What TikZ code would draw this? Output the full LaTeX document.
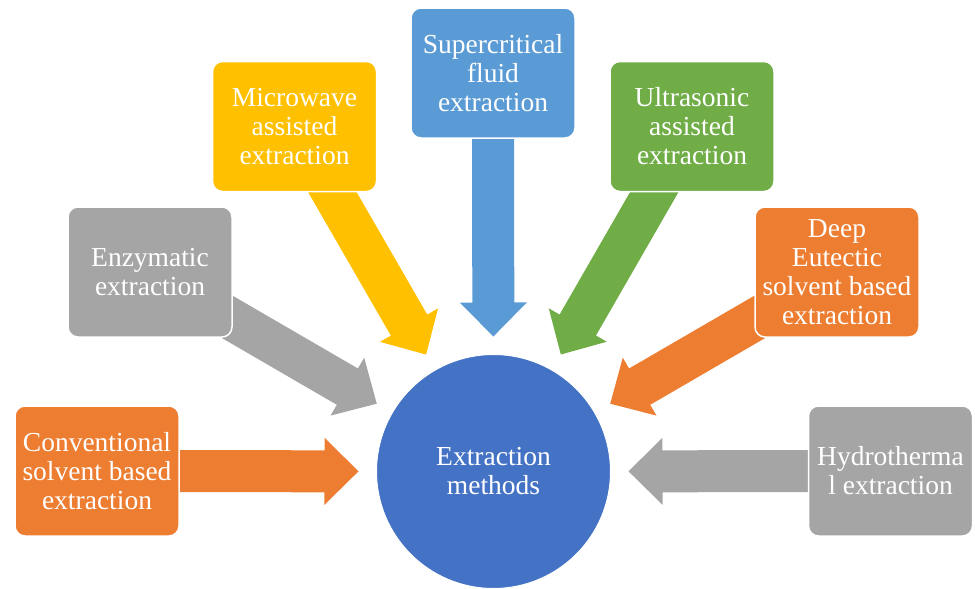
\documentclass[tikz,border=0pt]{standalone}
\usepackage{fontspec}
\setmainfont{Liberation Serif}
\usetikzlibrary{calc}
\definecolor{cOrange}{HTML}{ED7D31}
\definecolor{cGray}{HTML}{A5A5A5}
\definecolor{cYellow}{HTML}{FFC000}
\definecolor{cSky}{HTML}{5B9BD5}
\definecolor{cGreen}{HTML}{70AD47}
\definecolor{cBlue}{HTML}{4472C4}
\pgfdeclarelayer{bg}
\pgfsetlayers{bg,main}
\newcommand{\blockarrow}[3]{%
  \coordinate (#1h) at ($(#2)!34pt!(#1.center)$);
  \fill[#3] ($(#1.center)!21pt!90:(#2)$) -- ($(#1h)!21pt!90:(#2)$) -- ($(#1h)!33.5pt!90:(#2)$) -- (#2)
    -- ($(#1h)!33.5pt!-90:(#2)$) -- ($(#1h)!21pt!-90:(#2)$) -- ($(#1.center)!21pt!-90:(#2)$) -- cycle;}
\begin{document}
\begin{tikzpicture}[x=1pt,y=-1pt,
  box/.style={rounded corners=10pt, draw=white, line width=1.5pt, minimum width=164pt, minimum height=130pt,
    text=white, align=center, font=\fontsize{27.5}{29}\selectfont, inner sep=2pt},
  hub/.style={circle, fill=cBlue, draw=white, line width=1pt, minimum size=234pt, text=white, align=center,
    font=\fontsize{27.5}{29}\selectfont}]
\useasboundingbox (0,0) rectangle (975,589);
\node[hub] (c) at (493.5,471.5) {Extraction\\methods};
\node[box, fill=cOrange] (conv) at (97,471) {Conventional\\solvent based\\extraction};
\node[box, fill=cGray] (enz) at (150,272) {Enzymatic\\extraction};
\node[box, fill=cYellow] (micro) at (294.5,126.5) {Microwave\\assisted\\extraction};
\node[box, fill=cSky] (super) at (493,73) {Supercritical\\fluid\\extraction};
\node[box, fill=cGreen] (ultra) at (692,126.5) {Ultrasonic\\assisted\\extraction};
\node[box, fill=cOrange] (deep) at (837,272) {Deep\\Eutectic\\solvent based\\extraction};
\node[box, fill=cGray] (hydro) at (890.5,471) {Hydrotherma\\l extraction};
\foreach \n in {conv,enz,micro,super,ultra,deep,hydro}
  \coordinate (t\n) at ($(c.center)!135pt!(\n.center)$);
\begin{pgfonlayer}{bg}
\blockarrow{conv}{tconv}{cOrange}
\blockarrow{enz}{tenz}{cGray}
\blockarrow{micro}{tmicro}{cYellow}
\blockarrow{super}{tsuper}{cSky}
\blockarrow{ultra}{tultra}{cGreen}
\blockarrow{deep}{tdeep}{cOrange}
\blockarrow{hydro}{thydro}{cGray}
\end{pgfonlayer}
\end{tikzpicture}
\end{document}
